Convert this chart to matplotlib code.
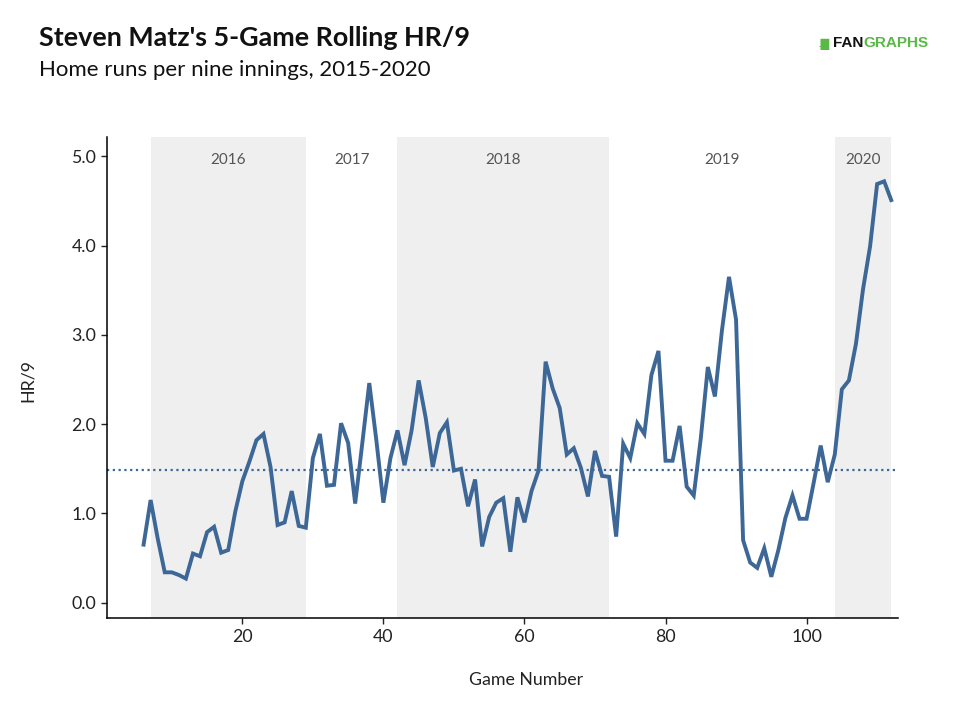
import numpy as np
import matplotlib.pyplot as plt

# game numbers and 5-game rolling HR/9
games = list(range(6, 113))
hr9 = [0.65, 1.15, 0.72, 0.34, 0.34, 0.31, 0.27, 0.55, 0.52, 0.79,
       0.85, 0.56, 0.59, 1.02, 1.36, 1.58, 1.82, 1.89, 1.52, 0.87,
       0.90, 1.25, 0.86, 0.84, 1.62, 1.89, 1.31, 1.32, 2.01, 1.79,
       1.11, 1.78, 2.46, 1.82, 1.12, 1.62, 1.93, 1.54, 1.93, 2.49,
       2.07, 1.52, 1.90, 2.02, 1.48, 1.50, 1.08, 1.38, 0.63, 0.96,
       1.12, 1.17, 0.57, 1.18, 0.90, 1.25, 1.48, 2.70, 2.40, 2.18,
       1.66, 1.73, 1.51, 1.19, 1.70, 1.42, 1.41, 0.74, 1.78, 1.62,
       2.01, 1.89, 2.55, 2.82, 1.59, 1.59, 1.98, 1.30, 1.20, 1.84,
       2.64, 2.31, 3.05, 3.65, 3.17, 0.70, 0.45, 0.39, 0.61, 0.29,
       0.59, 0.95, 1.20, 0.94, 0.94, 1.34, 1.76, 1.35, 1.66, 2.39,
       2.49, 2.90, 3.51, 3.99, 4.69, 4.72, 4.51]

career_avg = 1.49

# season boundaries (game numbers) and labels
seasons = ["2016", "2017", "2018", "2019", "2020"]
season_start = [7, 29, 42, 72, 104]
season_end = [29, 42, 72, 104, 112]
shaded = [True, False, True, False, True]

line_col = "#3d6797"

plt.rcParams['font.family'] = ['Lato', 'DejaVu Sans']

fig = plt.figure(figsize=(9.6, 7.24), dpi=100)
ax = fig.add_axes([0.1118, 0.146, 0.8239, 0.6652])

for lab, s, e, sh in zip(seasons, season_start, season_end, shaded):
    if sh:
        ax.axvspan(s, e, color="#efefef", lw=0, zorder=0)
    ax.text((s + e) / 2, 4.96, lab, ha="center", va="center",
            fontsize=11, color="#555555")

ax.axhline(career_avg, color=line_col, lw=1.6, ls=(0, (1, 1.6)), zorder=2)
ax.plot(games, hr9, color=line_col, lw=2.8, zorder=3,
        solid_joinstyle="miter")

ax.set_xlim(0.86, 113)
ax.set_ylim(-0.175, 5.22)
ax.set_yticks([0, 1, 2, 3, 4, 5])
ax.set_yticklabels(["0.0", "1.0", "2.0", "3.0", "4.0", "5.0"])
ax.set_xticks([20, 40, 60, 80, 100])

for sp in ["top", "right"]:
    ax.spines[sp].set_visible(False)
for sp in ["left", "bottom"]:
    ax.spines[sp].set_linewidth(1.1)
ax.tick_params(axis="both", length=4, width=1, labelsize=12.8,
               colors="#222222", pad=4)

fig.text(28 / 960, 1 - 380 / 724, "HR/9", rotation=90, ha="center",
         va="center", fontsize=12.8, color="#222222")
fig.text(526 / 960, 1 - 680 / 724, "Game Number", ha="center",
         va="center", fontsize=12.8, color="#222222")

fig.text(39 / 960, 1 - 46 / 724, "Steven Matz's 5-Game Rolling HR/9",
         fontsize=19.4, fontweight="bold", color="#111111", va="baseline")
fig.text(39 / 960, 1 - 76 / 724, "Home runs per nine innings, 2015-2020",
         fontsize=16, color="#111111", va="baseline")

# logo
logo_y = 1 - 47 / 724
fig.text(818 / 960, logo_y, ".\u2588", fontsize=8, color="#59b947",
         va="baseline", family="DejaVu Sans")
fig.text(833 / 960, logo_y, "FAN", fontsize=11, fontweight="bold",
         color="#111111", va="baseline", family="Liberation Sans")
fig.text(863 / 960, logo_y, "GRAPHS", fontsize=11, fontweight="bold",
         color="#59b947", va="baseline", family="Liberation Sans")

fig.savefig("out.png", dpi=100)
